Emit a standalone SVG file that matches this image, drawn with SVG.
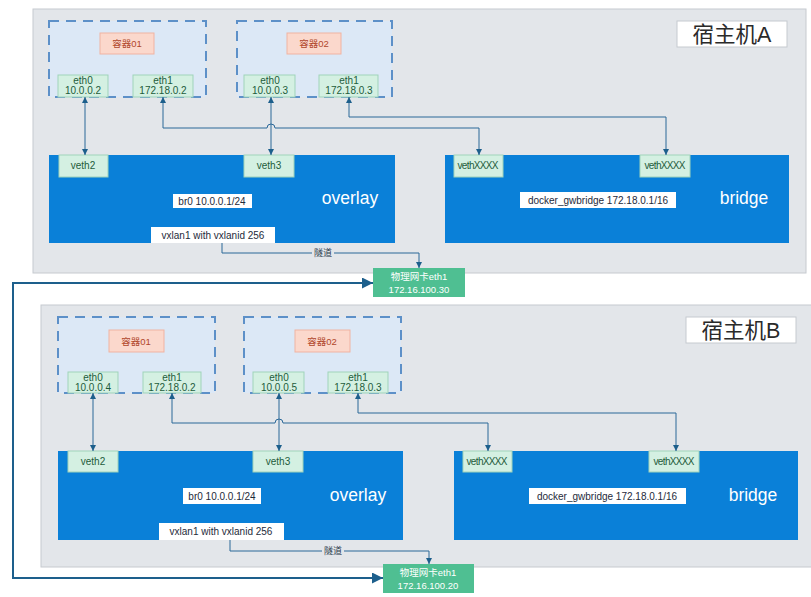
<svg xmlns="http://www.w3.org/2000/svg" width="811" height="597" viewBox="0 0 811 597">
<defs>
<style>
text{font-family:"Liberation Sans","Noto Sans CJK SC",sans-serif;}
.host{fill:#e3e6ea;stroke:#c6cacf;stroke-width:1}
.hostlabel{fill:#ffffff;stroke:#c6cacf;stroke-width:1}
.hlt{font-size:21.5px;fill:#2a2a2a;text-anchor:middle}
.cont{fill:#dce8f6;stroke:#5d90c8;stroke-width:2;stroke-dasharray:10 7}
.cname{fill:#fbd8cc;stroke:#f0b3a2;stroke-width:1}
.cnt{font-size:9.5px;fill:#b0462a;text-anchor:middle}
.eth{fill:#d4f0e2;stroke:#9fd3ba;stroke-width:1}
.etht{font-size:10px;fill:#1d5c3b;text-anchor:middle}
.net{fill:#0a80d8}
.lbl{fill:#ffffff}
.lblt{font-size:10px;fill:#1e2a3a;text-anchor:middle}
.big{font-size:17.5px;fill:#ffffff;text-anchor:middle}
.nic{fill:#4fbf92}
.nict{font-size:9.5px;fill:#ffffff;text-anchor:middle}
.conn{fill:none;stroke:#2b6898;stroke-width:1}
.loop{fill:none;stroke:#1d5f8c;stroke-width:2}
.tun{font-size:9px;fill:#2a3a4a;text-anchor:middle}
</style>
<marker id="ar" viewBox="0 0 10 10" refX="10" refY="5" markerWidth="6" markerHeight="6" markerUnits="userSpaceOnUse" orient="auto-start-reverse"><path d="M0,0 L10,5 L0,10 z" fill="#1d5f8c"/></marker>
<marker id="arb" viewBox="0 0 10 10" refX="10" refY="5" markerWidth="11" markerHeight="11" markerUnits="userSpaceOnUse" orient="auto-start-reverse"><path d="M0,0 L10,5 L0,10 z" fill="#1d5f8c"/></marker>
</defs>

<g id="hostA">
<rect class="host" x="33" y="9" width="773" height="264"/>
<rect class="hostlabel" x="677" y="21" width="110" height="26"/>
<text class="hlt" x="732" y="42">宿主机A</text>
</g>
<g id="hostB">
<rect class="host" x="41" y="305" width="775" height="262"/>
<rect class="hostlabel" x="686" y="317" width="110" height="26"/>
<text class="hlt" x="741" y="338">宿主机B</text>
</g>

<g id="A-container01">
<rect class="cont" x="49" y="21" width="157" height="76"/>
<rect class="cname" x="100" y="33" width="54" height="21"/>
<text class="cnt" x="127" y="47">容器01</text>
</g>
<g id="A-c01-eth0"><rect class="eth" x="58" y="75" width="50" height="22"/><text class="etht" x="83" y="84">eth0</text><text class="etht" x="83" y="94">10.0.0.2</text></g>
<g id="A-c01-eth1"><rect class="eth" x="133" y="75" width="60" height="22"/><text class="etht" x="163" y="84">eth1</text><text class="etht" x="163" y="94">172.18.0.2</text></g>

<g id="A-container02">
<rect class="cont" x="237" y="21" width="155" height="76"/>
<rect class="cname" x="287" y="33" width="54" height="21"/>
<text class="cnt" x="314" y="47">容器02</text>
</g>
<g id="A-c02-eth0"><rect class="eth" x="244" y="75" width="51" height="22"/><text class="etht" x="270" y="84">eth0</text><text class="etht" x="270" y="94">10.0.0.3</text></g>
<g id="A-c02-eth1"><rect class="eth" x="319" y="75" width="59" height="22"/><text class="etht" x="349" y="84">eth1</text><text class="etht" x="349" y="94">172.18.0.3</text></g>

<g id="A-overlay">
<rect class="net" x="49" y="155" width="346" height="88"/>
<text class="big" x="350" y="204">overlay</text>
<rect class="lbl" x="173" y="194" width="79" height="14"/>
<text class="lblt" x="212" y="205">br0 10.0.0.1/24</text>
</g>
<g id="A-veth2"><rect class="eth" x="59" y="155" width="49" height="22"/><text class="etht" x="83" y="169">veth2</text></g>
<g id="A-veth3"><rect class="eth" x="244" y="155" width="50" height="22"/><text class="etht" x="269" y="169">veth3</text></g>
<g id="A-vxlan1"><rect class="lbl" x="151" y="227" width="124" height="16"/><text class="lblt" x="213" y="239">vxlan1 with vxlanid 256</text></g>

<g id="A-bridge">
<rect class="net" x="445" y="155" width="344" height="88"/>
<text class="big" x="744" y="204">bridge</text>
<rect class="lbl" x="520" y="192" width="156" height="16"/>
<text class="lblt" x="598" y="204">docker_gwbridge 172.18.0.1/16</text>
</g>
<g id="A-vethX1"><rect class="eth" x="454" y="155" width="49" height="22"/><text class="etht" x="478" y="169" textLength="41">vethXXXX</text></g>
<g id="A-vethX2"><rect class="eth" x="640" y="155" width="50" height="22"/><text class="etht" x="665" y="169" textLength="41">vethXXXX</text></g>

<g id="A-nic"><rect class="nic" x="373" y="268" width="92" height="29"/><text class="nict" x="419" y="280">物理网卡eth1</text><text class="nict" x="419" y="293">172.16.100.30</text></g>

<g id="B-container01">
<rect class="cont" x="58" y="317" width="157" height="76"/>
<rect class="cname" x="109" y="330" width="55" height="22"/>
<text class="cnt" x="136" y="345">容器01</text>
</g>
<g id="B-c01-eth0"><rect class="eth" x="68" y="372" width="50" height="21"/><text class="etht" x="93" y="381">eth0</text><text class="etht" x="93" y="391">10.0.0.4</text></g>
<g id="B-c01-eth1"><rect class="eth" x="143" y="372" width="58" height="21"/><text class="etht" x="172" y="381">eth1</text><text class="etht" x="172" y="391">172.18.0.2</text></g>

<g id="B-container02">
<rect class="cont" x="244" y="317" width="157" height="76"/>
<rect class="cname" x="295" y="330" width="55" height="22"/>
<text class="cnt" x="322" y="345">容器02</text>
</g>
<g id="B-c02-eth0"><rect class="eth" x="253" y="372" width="51" height="21"/><text class="etht" x="279" y="381">eth0</text><text class="etht" x="279" y="391">10.0.0.5</text></g>
<g id="B-c02-eth1"><rect class="eth" x="328" y="372" width="60" height="21"/><text class="etht" x="358" y="381">eth1</text><text class="etht" x="358" y="391">172.18.0.3</text></g>

<g id="B-overlay">
<rect class="net" x="58" y="451" width="345" height="89"/>
<text class="big" x="358" y="501">overlay</text>
<rect class="lbl" x="183" y="488" width="78" height="16"/>
<text class="lblt" x="222" y="500">br0 10.0.0.1/24</text>
</g>
<g id="B-veth2"><rect class="eth" x="68" y="451" width="50" height="21"/><text class="etht" x="93" y="465">veth2</text></g>
<g id="B-veth3"><rect class="eth" x="253" y="451" width="50" height="21"/><text class="etht" x="278" y="465">veth3</text></g>
<g id="B-vxlan1"><rect class="lbl" x="159" y="523" width="125" height="17"/><text class="lblt" x="221" y="535">vxlan1 with vxlanid 256</text></g>

<g id="B-bridge">
<rect class="net" x="454" y="451" width="344" height="89"/>
<text class="big" x="753" y="501">bridge</text>
<rect class="lbl" x="529" y="488" width="157" height="16"/>
<text class="lblt" x="607" y="500">docker_gwbridge 172.18.0.1/16</text>
</g>
<g id="B-vethX1"><rect class="eth" x="463" y="451" width="49" height="21"/><text class="etht" x="487" y="465" textLength="41">vethXXXX</text></g>
<g id="B-vethX2"><rect class="eth" x="649" y="451" width="50" height="21"/><text class="etht" x="674" y="465" textLength="41">vethXXXX</text></g>

<g id="B-nic"><rect class="nic" x="383" y="564" width="91" height="29"/><text class="nict" x="428" y="576">物理网卡eth1</text><text class="nict" x="428" y="589">172.16.100.20</text></g>

<g id="connectors">
<path class="conn" d="M85,97 L85,155" marker-start="url(#ar)" marker-end="url(#ar)"/>
<path class="conn" d="M271,97 L271,155" marker-start="url(#ar)" marker-end="url(#ar)"/>
<path class="conn" d="M163,97 L163,128 L267,128 A4,4 0 0 1 275,128 L479,128 L479,155" marker-start="url(#ar)" marker-end="url(#ar)"/>
<path class="conn" d="M349,97 L349,117 L666,117 L666,155" marker-start="url(#ar)" marker-end="url(#ar)"/>
<path class="conn" d="M222,243 L222,253 L419,253 L419,268" marker-end="url(#ar)"/>
<rect x="312" y="247" width="22" height="12" fill="#e3e6ea"/>
<text class="tun" x="323" y="256">隧道</text>

<path class="conn" d="M93,393 L93,451" marker-start="url(#ar)" marker-end="url(#ar)"/>
<path class="conn" d="M279,393 L279,451" marker-start="url(#ar)" marker-end="url(#ar)"/>
<path class="conn" d="M172,393 L172,423 L275,423 A4,4 0 0 1 283,423 L488,423 L488,451" marker-start="url(#ar)" marker-end="url(#ar)"/>
<path class="conn" d="M358,393 L358,413 L676,413 L676,451" marker-start="url(#ar)" marker-end="url(#ar)"/>
<path class="conn" d="M230,540 L230,551 L429,551 L429,564" marker-end="url(#ar)"/>
<rect x="322" y="545" width="22" height="12" fill="#e3e6ea"/>
<text class="tun" x="333" y="554">隧道</text>

<path class="loop" d="M373,283 L13,283 L13,578 L383,578" marker-start="url(#arb)" marker-end="url(#arb)"/>
</g>
</svg>
